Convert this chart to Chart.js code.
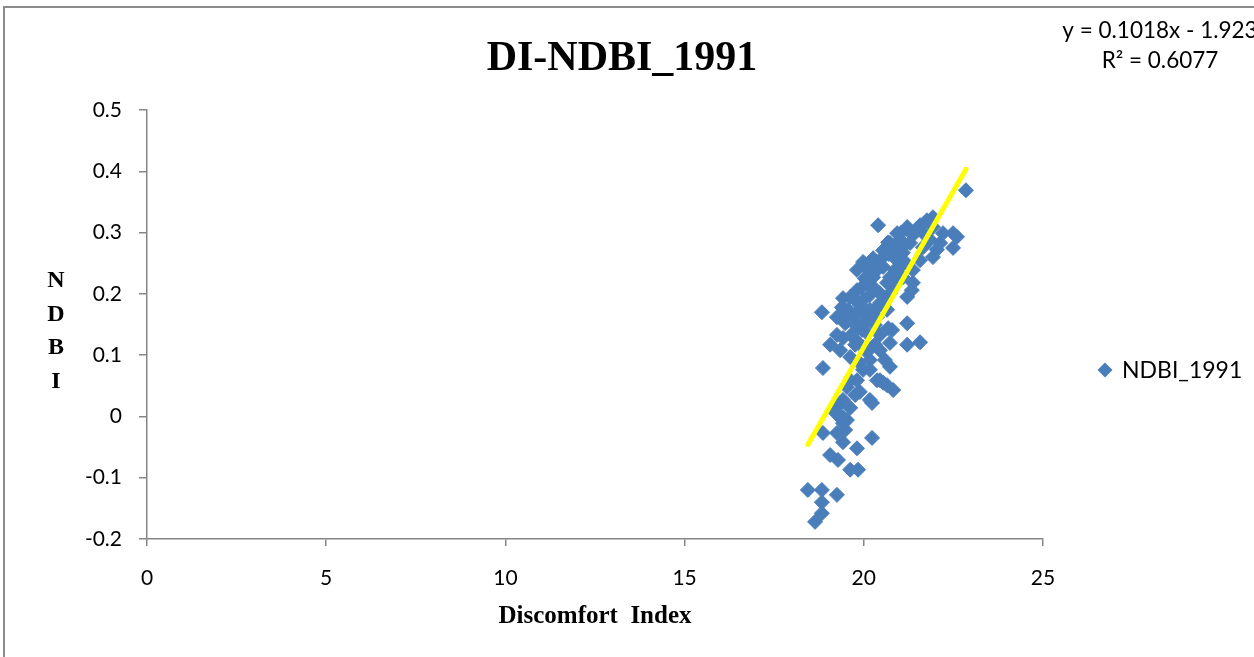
<!DOCTYPE html>
<html>
<head>
<meta charset="utf-8">
<script src="https://cdn.jsdelivr.net/npm/chart.js@4.4.1/dist/chart.umd.min.js"></script>
<style>
  html, body { margin: 0; padding: 0; background: #ffffff; }
  #wrap { width: 1254px; height: 657px; position: relative; }
</style>
</head>
<body>
<div id="wrap"><canvas id="chart" width="1254" height="657"></canvas></div>
<script>
// Text
const chartTitle = 'DI-NDBI_1991';
const xAxisTitle = 'Discomfort  Index';
const yAxisTitle = ['N', 'D', 'B', 'I'];
const seriesName = 'NDBI_1991';
const trendText = ['y = 0.1018x - 1.923', 'R\u00B2 = 0.6077'];

// Axis ticks
const xTicks = [0, 5, 10, 15, 20, 25];
const yTicks = [-0.2, -0.1, 0, 0.1, 0.2, 0.3, 0.4, 0.5];

// Linear fit shown in the label
const trendSlope = 0.1018;
const trendIntercept = -1.923;

// Discomfort Index (x) and NDBI (y) per sample
const diValues = [
  22.85, 20.40, 18.83, 18.86, 19.06, 18.44, 18.83, 19.25, 18.83, 18.83,
  18.64, 18.86, 19.06, 19.28, 19.62, 19.84, 19.81, 20.23, 20.23, 19.25,
  19.42, 19.25, 19.42, 19.42, 19.62, 19.14, 19.42, 19.53, 19.89, 19.81,
  19.98, 20.37, 20.65, 20.82, 20.73, 19.62, 20.09, 19.42, 19.70, 20.09,
  20.73, 21.21, 21.57, 21.21, 20.79, 20.45, 20.68, 19.25, 19.48, 19.25,
  19.39, 19.62, 19.42, 19.81, 19.53, 19.98, 20.17, 20.37, 20.37, 20.45,
  19.98, 19.95, 19.81, 20.26, 20.45, 20.65, 20.73, 21.21, 21.34, 20.26,
  20.65, 21.09, 20.09, 19.81, 19.98, 20.26, 20.17, 20.54, 20.37, 20.54,
  20.68, 20.93, 20.93, 21.21, 21.37, 20.73, 21.29, 20.65, 21.09, 21.01,
  21.37, 20.73, 21.37, 21.76, 21.93, 21.93, 22.21, 22.49, 22.60, 22.49,
  22.13, 22.04, 21.85, 21.65, 21.93, 20.17, 19.34, 19.53, 19.62, 20.45,
  20.17, 19.89, 19.98, 20.54, 21.48, 21.57, 21.01, 20.87, 20.17, 19.89,
  19.76, 19.34, 20.31, 20.59, 19.62, 19.89, 20.12, 19.76, 20.31, 20.59,
  20.87, 20.87, 21.15, 21.57, 21.71, 21.15, 20.45, 20.12, 19.76, 19.56,
  19.95, 20.45, 20.17, 19.76, 19.48, 20.03, 20.70, 21.05
];
const ndbiValues = [
  0.369, 0.312, 0.170, 0.079, 0.117, -0.120, -0.120, -0.128, -0.140, -0.158,
  -0.172, -0.027, -0.063, -0.071, -0.087, -0.087, -0.052, -0.035, 0.022, -0.027,
  -0.042, 0.015, -0.001, -0.011, 0.014, 0.010, 0.027, 0.048, 0.040, 0.059,
  0.076, 0.059, 0.051, 0.043, 0.081, 0.097, 0.105, 0.128, 0.136, 0.136,
  0.120, 0.117, 0.121, 0.152, 0.141, 0.133, 0.144, 0.133, 0.152, 0.162,
  0.178, 0.195, 0.193, 0.169, 0.162, 0.169, 0.174, 0.162, 0.178, 0.185,
  0.190, 0.211, 0.206, 0.211, 0.201, 0.174, 0.201, 0.195, 0.206, 0.227,
  0.218, 0.227, 0.218, 0.239, 0.252, 0.258, 0.250, 0.244, 0.239, 0.271,
  0.284, 0.276, 0.299, 0.309, 0.296, 0.283, 0.283, 0.267, 0.267, 0.244,
  0.239, 0.227, 0.218, 0.320, 0.325, 0.309, 0.299, 0.299, 0.293, 0.275,
  0.283, 0.272, 0.288, 0.276, 0.260, 0.027, -0.002, -0.006, 0.059, 0.059,
  0.076, 0.087, 0.113, 0.055, 0.304, 0.312, 0.288, 0.258, 0.198, 0.149,
  0.125, 0.108, 0.117, 0.092, 0.157, 0.182, 0.157, 0.117, 0.149, 0.190,
  0.215, 0.239, 0.252, 0.255, 0.296, 0.280, 0.255, 0.239, 0.190, 0.174,
  0.141, 0.108, 0.092, 0.035, -0.022, 0.225, 0.265, 0.300
];

const markerColor = '#4A7EBB';
const axisColor = '#868686';
const tickFont = { family: 'Lato', size: 21 };

const points = diValues.map((x, i) => ({ x: x, y: ndbiValues[i] }));
const xMin = Math.min(...diValues);
const xMax = Math.max(...diValues);
const trendPoints = [xMin, xMax].map(x => ({ x: x, y: trendSlope * x + trendIntercept }));

// Frame, titles, legend and fit label drawn around the plot
const decor = {
  id: 'decor',
  beforeDraw(chart) {
    const ctx = chart.ctx;
    ctx.save();
    ctx.fillStyle = '#ffffff';
    ctx.fillRect(0, 0, chart.width, chart.height);
    ctx.restore();
  },
  afterDraw(chart) {
    const ctx = chart.ctx;
    ctx.save();
    // outer frame
    ctx.strokeStyle = '#8c8c8c';
    ctx.lineWidth = 2;
    ctx.beginPath();
    ctx.moveTo(4, chart.height);
    ctx.lineTo(4, 7);
    ctx.lineTo(chart.width, 7);
    ctx.stroke();

    ctx.fillStyle = '#000000';
    // chart title
    ctx.font = 'bold 42px "Liberation Serif"';
    ctx.textAlign = 'center';
    ctx.textBaseline = 'alphabetic';
    ctx.fillText(chartTitle, 622, 70);

    // x axis title
    ctx.font = 'bold 25px "Liberation Serif"';
    ctx.fillText(xAxisTitle, 595, 623);

    // y axis title, one letter per line
    ctx.font = 'bold 24px "Liberation Serif"';
    const yBase = [287, 321, 354, 388];
    yAxisTitle.forEach((ch, i) => ctx.fillText(ch, 56, yBase[i]));

    // legend
    const lx = 1105, ly = 370, r = 7.5;
    ctx.fillStyle = markerColor;
    ctx.beginPath();
    ctx.moveTo(lx - r, ly);
    ctx.lineTo(lx, ly - r);
    ctx.lineTo(lx + r, ly);
    ctx.lineTo(lx, ly + r);
    ctx.closePath();
    ctx.fill();
    ctx.fillStyle = '#000000';
    ctx.font = '23px Lato';
    ctx.textAlign = 'left';
    ctx.textBaseline = 'middle';
    ctx.fillText(seriesName, 1122, ly + 1);

    // fit equation
    ctx.font = '22.5px Lato';
    ctx.textAlign = 'center';
    ctx.textBaseline = 'alphabetic';
    ctx.fillText(trendText[0], 1160, 38);
    ctx.fillText(trendText[1], 1160, 68);
    ctx.restore();
  }
};

new Chart(document.getElementById('chart'), {
  type: 'scatter',
  data: {
    datasets: [
      {
        label: 'Linear (' + seriesName + ')',
        type: 'line',
        data: trendPoints,
        borderColor: '#FFFF00',
        borderWidth: 5,
        borderCapStyle: 'round',
        pointRadius: 0,
        fill: false,
        order: 0
      },
      {
        label: seriesName,
        data: points,
        pointStyle: 'rectRot',
        pointRadius: 7.5,
        backgroundColor: markerColor,
        borderColor: markerColor,
        borderWidth: 1,
        order: 1
      }
    ]
  },
  options: {
    responsive: false,
    animation: false,
    events: [],
    layout: { padding: { top: 110, right: 211, left: 0, bottom: 0 } },
    plugins: {
      legend: { display: false },
      title: { display: false },
      tooltip: { enabled: false }
    },
    scales: {
      x: {
        type: 'linear',
        min: 0,
        max: 25,
        afterBuildTicks: s => { s.ticks = xTicks.map(v => ({ value: v })); },
        afterFit: s => { s.height = 118; },
        grid: { drawOnChartArea: false, tickLength: 7, color: axisColor, lineWidth: 1.5 },
        border: { color: axisColor, width: 1.5 },
        ticks: { padding: 20, color: '#000000', font: tickFont, maxRotation: 0, callback: v => String(v) }
      },
      y: {
        type: 'linear',
        min: -0.2,
        max: 0.5,
        afterBuildTicks: s => { s.ticks = yTicks.map(v => ({ value: v })); },
        afterFit: s => { s.width = 147; },
        grid: { drawOnChartArea: false, tickLength: 8, color: axisColor, lineWidth: 1.5 },
        border: { color: axisColor, width: 1.5 },
        ticks: { padding: 17, color: '#000000', font: tickFont, callback: v => String(Number(v.toFixed(1))) }
      }
    }
  },
  plugins: [decor]
});
</script>
</body>
</html>
